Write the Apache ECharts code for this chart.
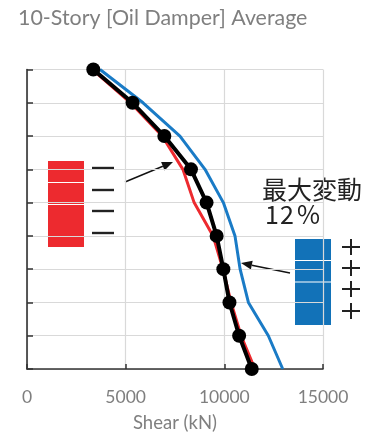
<!DOCTYPE html>
<html>
<head>
<meta charset="utf-8">
<script src="https://cdn.jsdelivr.net/npm/echarts@6/dist/echarts.min.js"></script>
<style>
  html, body { margin: 0; padding: 0; background: #fff; }
  #chart { width: 368px; height: 437px; }
</style>
</head>
<body>
<div id="chart"></div>
<script>
// Story levels (1 = ground floor, 10 = top)
const floors = [1, 2, 3, 4, 5, 6, 7, 8, 9, 10];
// Story shear (kN) per floor
const averageShear = [11390, 10750, 10260, 9950, 9610, 9100, 8310, 6960, 5350, 3360];
const minShear     = [11550, 10850, 10340, 9930, 9430, 8470, 7900, 6850, 5250, 3320];
const maxShear     = [12960, 12230, 11220, 10800, 10540, 9950, 9020, 7750, 5880, 3700];
const xTicks = [0, 5000, 10000, 15000];

const pairs = vals => vals.map((v, i) => [v, floors[i]]);

function arrow(x1, y1, x2, y2) {
  const ang = Math.atan2(y2 - y1, x2 - x1);
  const len = 11, half = 4.5;
  const bx = x2 - len * Math.cos(ang), by = y2 - len * Math.sin(ang);
  const px = -Math.sin(ang) * half, py = Math.cos(ang) * half;
  return [
    { type: 'line', shape: { x1: x1, y1: y1, x2: bx, y2: by }, style: { stroke: '#111', lineWidth: 1.4 } },
    { type: 'polygon', shape: { points: [[x2, y2], [bx + px, by + py], [bx - px, by - py]] }, style: { fill: '#111' } }
  ];
}

function stackedBox(x, y, w, h, cuts, color) {
  const els = [{ type: 'rect', shape: { x: x, y: y, width: w, height: h }, style: { fill: color } }];
  cuts.forEach(c => els.push({ type: 'line', shape: { x1: x, y1: c, x2: x + w, y2: c }, style: { stroke: '#fff', lineWidth: 1.2 } }));
  return els;
}

const graphics = [];
// decrease side
stackedBox(48, 161, 36, 86, [182.5, 204.5], '#ED2A2F').forEach(e => graphics.push(e));
[168, 190, 211, 233].forEach(y => graphics.push({ type: 'line', shape: { x1: 92, y1: y, x2: 114, y2: y }, style: { stroke: '#222', lineWidth: 2.4 } }));
arrow(125, 182, 173, 162).forEach(e => graphics.push(e));
// increase side
stackedBox(295, 239, 36, 86, [260.5, 282], '#1272B8').forEach(e => graphics.push(e));
[247, 268, 289, 311].forEach(y => {
  graphics.push({ type: 'line', shape: { x1: 342, y1: y, x2: 360, y2: y }, style: { stroke: '#222', lineWidth: 2 } });
  graphics.push({ type: 'line', shape: { x1: 351, y1: y - 8, x2: 351, y2: y + 8 }, style: { stroke: '#222', lineWidth: 2 } });
});
arrow(290, 273, 241, 263).forEach(e => graphics.push(e));
const noteFont = '25px "Noto Sans CJK JP"';
graphics.push({ type: 'text', left: 262, top: 177, style: { text: '最大変動', font: noteFont, fill: '#222' } });
// spaced-out percentage
[['1', 265], ['2', 280], ['%', 297]].forEach(([ch, x]) =>
  graphics.push({ type: 'text', left: x, top: 202, style: { text: ch, font: noteFont, fill: '#222' } }));

const chart = echarts.init(document.getElementById('chart'), null, { renderer: 'canvas' });
chart.setOption({
  animation: false,
  title: {
    text: '10-Story [Oil Damper] Average',
    left: 13, top: 3,
    textStyle: { fontFamily: 'Lato', fontSize: 21.4, fontWeight: 'normal', color: '#7f7f7f' }
  },
  grid: { left: 27, right: 45, top: 69.5, bottom: 68, containLabel: false, outerBoundsMode: 'none' },
  xAxis: {
    type: 'value', min: xTicks[0], max: xTicks[xTicks.length - 1], interval: 5000,
    name: 'Shear (kN)', nameLocation: 'middle', nameGap: 45,
    nameTextStyle: { fontFamily: 'Lato', fontSize: 18.5, color: '#7f7f7f' },
    axisLine: { show: true, lineStyle: { color: '#333', width: 1.6 } },
    axisTick: { show: true, inside: true, length: 5, lineStyle: { color: '#333', width: 1.5 } },
    axisLabel: { fontFamily: 'Lato', fontSize: 17.5, color: '#7f7f7f', margin: 19,
      formatter: v => String(v) },
    splitLine: { show: true, lineStyle: { color: '#d9d9d9', width: 1.2 } }
  },
  yAxis: {
    type: 'value', min: floors[0], max: floors[floors.length - 1], interval: 1,
    axisLine: { show: true, lineStyle: { color: '#333', width: 1.6 } },
    axisTick: { show: true, inside: true, length: 6, lineStyle: { color: '#333', width: 1.5 } },
    axisLabel: { show: false },
    splitLine: { show: true, lineStyle: { color: '#d9d9d9', width: 1.2 } }
  },
  series: [
    { type: 'line', data: pairs(maxShear), showSymbol: false, symbol: 'none',
      lineStyle: { color: '#1A7BC6', width: 3 }, z: 2 },
    { type: 'line', data: pairs(minShear), showSymbol: false, symbol: 'none',
      lineStyle: { color: '#ED2A2F', width: 3 }, z: 3 },
    { type: 'line', data: pairs(averageShear), symbol: 'circle', symbolSize: 14,
      itemStyle: { color: '#000' }, lineStyle: { color: '#000', width: 4 }, z: 4 }
  ],
  graphic: graphics
});
</script>
</body>
</html>
